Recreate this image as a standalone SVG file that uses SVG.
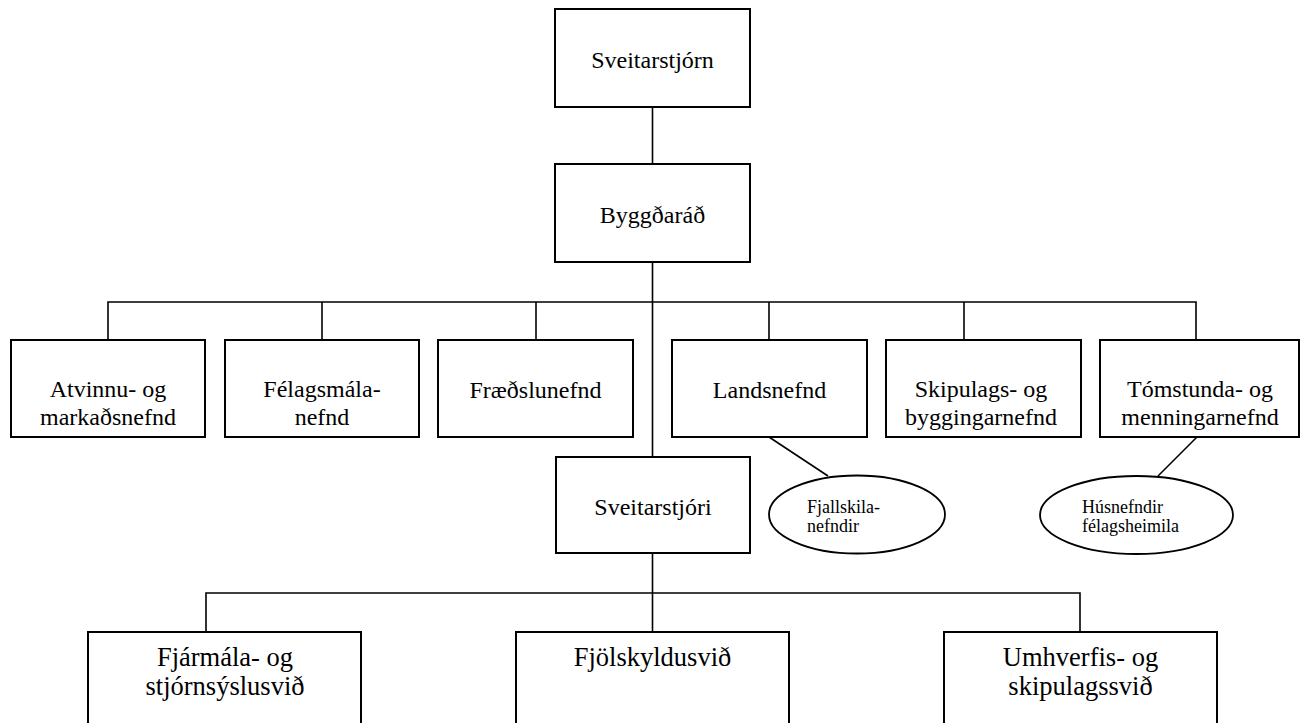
<svg xmlns="http://www.w3.org/2000/svg" width="1305" height="723" viewBox="0 0 1305 723">
<style>
.box{fill:#fff;stroke:#000;stroke-width:2}
.ell{fill:#fff;stroke:#000;stroke-width:1.8}
.ln{fill:none;stroke:#000;stroke-width:1.6}
text{font-family:"Liberation Serif","Times New Roman",serif;fill:#000}
.t24{font-size:24px;text-anchor:middle}
.t26{font-size:26.5px;text-anchor:middle}
.t18{font-size:18px}
</style>
<rect width="1305" height="723" fill="#fff"/>
<g id="connectors">
<line class="ln" x1="652.5" y1="107" x2="652.5" y2="164"/>
<line class="ln" x1="652.5" y1="262" x2="652.5" y2="457"/>
<polyline class="ln" points="108,340 108,302 1196,302 1196,340"/>
<line class="ln" x1="322" y1="302" x2="322" y2="340"/>
<line class="ln" x1="536" y1="302" x2="536" y2="340"/>
<line class="ln" x1="769" y1="302" x2="769" y2="340"/>
<line class="ln" x1="964" y1="302" x2="964" y2="340"/>
<line class="ln" x1="769" y1="437" x2="828" y2="476"/>
<line class="ln" x1="1197" y1="437" x2="1158" y2="476"/>
<line class="ln" x1="652.5" y1="553" x2="652.5" y2="632"/>
<polyline class="ln" points="206,632 206,593 1080,593 1080,632"/>
</g>
<g id="sveitarstjorn"><rect class="box" x="555" y="9" width="195" height="98"/><text class="t24" x="652.5" y="68">Sveitarstjórn</text></g>
<g id="byggdarad"><rect class="box" x="555" y="164" width="195" height="98"/><text class="t24" x="652.5" y="223">Byggðaráð</text></g>
<g id="atvinnu"><rect class="box" x="11" y="340" width="194" height="97"/><text class="t24" x="108" y="397">Atvinnu- og</text><text class="t24" x="108" y="425">markaðsnefnd</text></g>
<g id="felagsmala"><rect class="box" x="225" y="340" width="194" height="97"/><text class="t24" x="322" y="397">Félagsmála-</text><text class="t24" x="322" y="425">nefnd</text></g>
<g id="fraedslunefnd"><rect class="box" x="438" y="340" width="195" height="97"/><text class="t24" x="535.5" y="398">Fræðslunefnd</text></g>
<g id="landsnefnd"><rect class="box" x="672" y="340" width="195" height="97"/><text class="t24" x="769.5" y="398">Landsnefnd</text></g>
<g id="skipulags"><rect class="box" x="886" y="340" width="195" height="97"/><text class="t24" x="981" y="397">Skipulags- og</text><text class="t24" x="981" y="425">byggingarnefnd</text></g>
<g id="tomstunda"><rect class="box" x="1100" y="340" width="199" height="97"/><text class="t24" x="1200" y="397">Tómstunda- og</text><text class="t24" x="1200" y="425">menningarnefnd</text></g>
<g id="sveitarstjori"><rect class="box" x="556" y="457" width="194" height="96"/><text class="t24" x="653" y="515">Sveitarstjóri</text></g>
<g id="fjallskila"><ellipse class="ell" cx="857" cy="514.5" rx="88" ry="39"/><text class="t18" x="807" y="513">Fjallskila-</text><text class="t18" x="807" y="532">nefndir</text></g>
<g id="husnefndir"><ellipse class="ell" cx="1136.5" cy="515" rx="96.5" ry="39"/><text class="t18" x="1082" y="513">Húsnefndir</text><text class="t18" x="1082" y="532">félagsheimila</text></g>
<g id="fjarmala"><rect class="box" x="88" y="632" width="273" height="100"/><text class="t26" x="225" y="666">Fjármála- og</text><text class="t26" x="225" y="695">stjórnsýslusvið</text></g>
<g id="fjolskyldusvid"><rect class="box" x="516" y="632" width="273" height="100"/><text class="t26" x="652.5" y="666">Fjölskyldusvið</text></g>
<g id="umhverfis"><rect class="box" x="944" y="632" width="273" height="100"/><text class="t26" x="1080.5" y="666">Umhverfis- og</text><text class="t26" x="1080.5" y="695">skipulagssvið</text></g>
</svg>
